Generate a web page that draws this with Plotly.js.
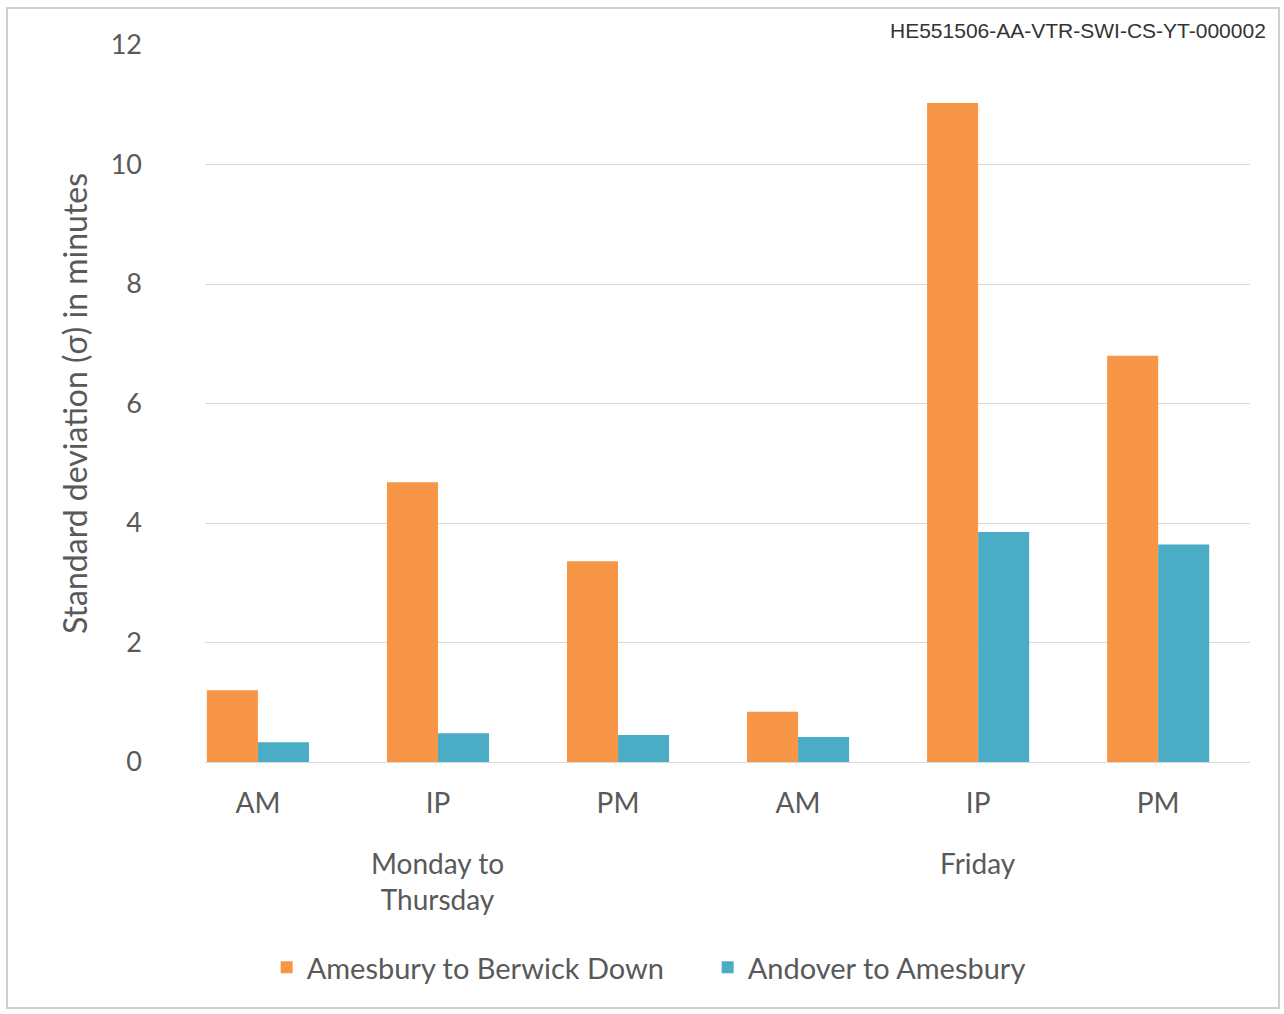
<!DOCTYPE html>
<html><head><meta charset="utf-8">
<script src="https://cdn.plot.ly/plotly-3.0.1.min.js"></script>
<style>
html,body{margin:0;padding:0;background:#fff;}
#frame{position:absolute;left:6px;top:7px;width:1274px;height:1002px;border:2px solid #d0d0d0;box-sizing:border-box;}
#chart{position:absolute;left:0;top:0;width:1284px;height:1014px;}
</style></head>
<body>
<div id="frame"></div>
<div id="chart"></div>
<script>
const groups = ["Monday to<br>Thursday","Monday to<br>Thursday","Monday to<br>Thursday","Friday","Friday","Friday"];
const periods = ["AM","IP","PM","AM","IP","PM"];
const seriesNames = ["Amesbury to Berwick Down","Andover to Amesbury"];
const amesburyBerwick = [1.2, 4.68, 3.36, 0.84, 11.03, 6.8];
const andoverAmesbury = [0.33, 0.48, 0.45, 0.42, 3.85, 3.64];
const yTicks = [0,2,4,6,8,10,12];
const docRef = "HE551506-AA-VTR-SWI-CS-YT-000002";

const idx = periods.map((p,i)=>i);
// group label positions: centre index of each group
const groupNames = [...new Set(groups)];
const groupAnn = groupNames.map(g=>{
  const ids = idx.filter(i=>groups[i]===g);
  return {text:g, xref:'x', yref:'paper', x:(ids[0]+ids[ids.length-1])/2, y:0, yanchor:'top',
          yshift:-82, showarrow:false, font:{size:28, color:'#595959'}, align:'center'};
});

const fontFam = 'Lato, "Open Sans", sans-serif';
const traces = [
  {type:'bar', name:seriesNames[0], x:idx, y:amesburyBerwick, marker:{color:'#F79646'}},
  {type:'bar', name:seriesNames[1], x:idx, y:andoverAmesbury, marker:{color:'#4BACC6'}}
];
const layout = {
  width:1284, height:1014,
  paper_bgcolor:'rgba(0,0,0,0)', plot_bgcolor:'rgba(0,0,0,0)',
  margin:{l:205, r:34, t:45, b:252},
  barmode:'group', bargap:0.433, bargroupgap:0,
  font:{family:fontFam, color:'#595959', size:22},
  showlegend:true,
  legend:{orientation:'h', x:0.059, xanchor:'left', xref:'paper', y:-0.251, yanchor:'top',
          entrywidth:396, entrywidthmode:'pixels',
          font:{size:29, color:'#595959'}, traceorder:'normal'},
  xaxis:{type:'linear', range:[-0.294, 5.51], tickvals:idx, ticktext:periods,
         showline:true, linecolor:'#d9d9d9', linewidth:1, zeroline:false,
         ticks:'', ticklabelstandoff:16, tickfont:{size:28, color:'#595959'}, showgrid:false, automargin:false},
  yaxis:{range:[0,12], tickvals:yTicks, showgrid:true, gridcolor:'#d9d9d9', gridwidth:1,
         zeroline:false, showline:false, ticks:'', ticklabelstandoff:62,
         tickfont:{size:27, color:'#595959'}, automargin:false,
         title:{text:'Standard deviation (σ) in minutes', font:{size:32, color:'#595959'}, standoff:13}},
  annotations:[...groupAnn, {text:docRef, xref:'paper', yref:'paper', x:1.0, xanchor:'right', y:1.0, yanchor:'middle',
                yshift:15, xshift:18, showarrow:false,
                font:{family:'"Liberation Sans", Arial, sans-serif', size:21, color:'#333'}}]
};
Plotly.newPlot('chart', traces, layout, {displayModeBar:false, staticPlot:true});
</script>
</body></html>
